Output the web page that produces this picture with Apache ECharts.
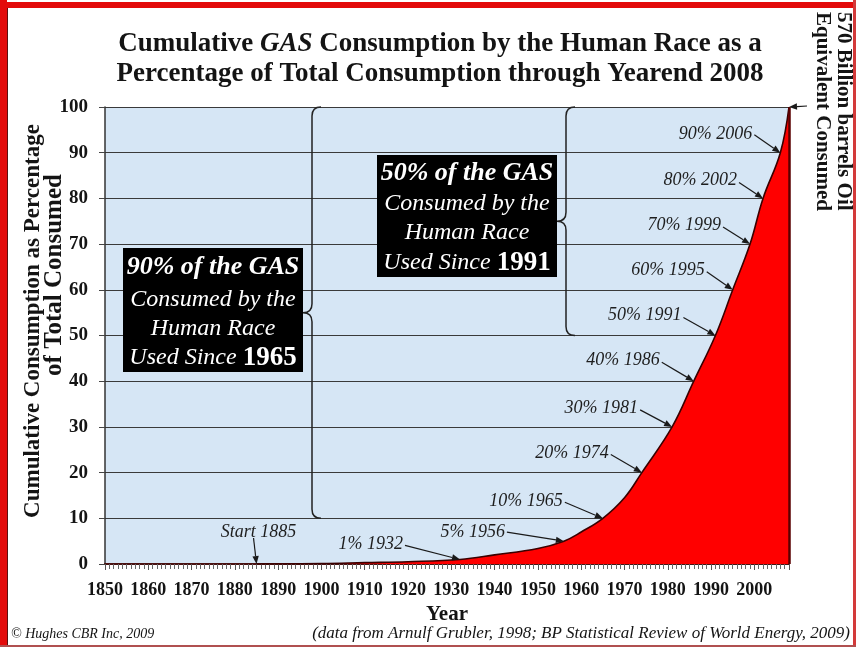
<!DOCTYPE html>
<html>
<head>
<meta charset="utf-8">
<script src="https://cdn.jsdelivr.net/npm/echarts@6/dist/echarts.min.js"></script>
<style>
  html, body { margin: 0; padding: 0; background: #ffffff; }
  #chart { width: 856px; height: 647px; }
</style>
</head>
<body>
<div id="chart"></div>
<script>
// Cumulative share of all gas consumed (percent of the total through 2008), by year
const years    = [1885, 1900, 1910, 1920, 1932, 1940, 1950, 1956, 1960, 1965, 1970, 1974, 1981, 1986, 1991, 1995, 1999, 2002, 2006, 2008];
const sharePct = [0,    0.1,  0.3,  0.5,  1,    2,    3.4,  5,    7,    10,   14.5, 20,   30,   40,   50,   60,   70,   80,   90,   100];

// Milestones called out with arrows
const milestoneYears = [1885, 1932, 1956, 1965, 1974, 1981, 1986, 1991, 1995, 1999, 2002, 2006, 2008];
const milestonePct   = [0,    1,    5,    10,   20,   30,   40,   50,   60,   70,   80,   90,   100];
const milestoneText  = ['Start 1885', '1% 1932', '5% 1956', '10% 1965', '20% 1974', '30% 1981',
                        '40% 1986', '50% 1991', '60% 1995', '70% 1999', '80% 2002', '90% 2006', ''];

// Spans (percent) bracketed by the two curly braces
const braceFrom = [10, 50];
const braceTo   = [100, 100];

// Axis tick labels
const yearTicks = [1850, 1860, 1870, 1880, 1890, 1900, 1910, 1920, 1930, 1940, 1950, 1960, 1970, 1980, 1990, 2000];
const pctTicks  = [0, 10, 20, 30, 40, 50, 60, 70, 80, 90, 100];

// ---- layout (pixel offsets, not data) ----
// arrow tail offset from the pointed-at point, text anchor offset from the tail, text alignment
const calloutLayout = [
  { tail: [-3, -26], text: [5, 3],  align: 'center', vAlign: 'bottom' },
  { tail: [-55, -14], text: [-2, -1], align: 'right', vAlign: 'middle' },
  { tail: [-57, -9],  text: [-2, 0],  align: 'right', vAlign: 'middle' },
  { tail: [-38, -16], text: [-2, -1], align: 'right', vAlign: 'middle' },
  { tail: [-31, -18], text: [-2, -1], align: 'right', vAlign: 'middle' },
  { tail: [-32, -17], text: [-2, -2], align: 'right', vAlign: 'middle' },
  { tail: [-32, -19], text: [-2, -2], align: 'right', vAlign: 'middle' },
  { tail: [-32, -18], text: [-2, -2], align: 'right', vAlign: 'middle' },
  { tail: [-26, -18], text: [-2, -2], align: 'right', vAlign: 'middle' },
  { tail: [-27, -17], text: [-2, -2], align: 'right', vAlign: 'middle' },
  { tail: [-24, -16], text: [-2, -2], align: 'right', vAlign: 'middle' },
  { tail: [-26, -18], text: [-2, 0],  align: 'right', vAlign: 'middle' },
  { tail: [18, -1],   text: [0, 0],   align: 'left',  vAlign: 'middle' }
];
const braceX = [312, 566];
const braceR = 9;

const SERIF = '"Liberation Serif", "Times New Roman", "DejaVu Serif", serif';
const INK = '#141414';

const chart = echarts.init(document.getElementById('chart'), null, { renderer: 'canvas' });

function arrowChildren(tip, tail, color) {
  const dx = tip[0] - tail[0], dy = tip[1] - tail[1];
  const len = Math.hypot(dx, dy) || 1;
  const ux = dx / len, uy = dy / len;
  const hl = 8, hw = 3.2;
  const bx = tip[0] - ux * hl, by = tip[1] - uy * hl;
  return [
    { type: 'line', shape: { x1: tail[0], y1: tail[1], x2: bx, y2: by },
      style: { stroke: color, lineWidth: 1.2 } },
    { type: 'polygon', shape: { points: [[tip[0], tip[1]], [bx - uy * hw, by + ux * hw], [bx + uy * hw, by - ux * hw]] },
      style: { fill: color } }
  ];
}

function renderCallout(params, api) {
  const i = params.dataIndex;
  const p = api.coord([api.value(0), api.value(1)]);
  const L = calloutLayout[i];
  const tail = [p[0] + L.tail[0], p[1] + L.tail[1]];
  const children = arrowChildren(p, tail, '#1a1a1a');
  if (milestoneText[i]) {
    children.push({
      type: 'text',
      style: {
        text: milestoneText[i],
        x: tail[0] + L.text[0], y: tail[1] + L.text[1],
        font: 'italic 18px ' + SERIF,
        fill: '#1e1e1e',
        align: L.align, textAlign: L.align,
        verticalAlign: L.vAlign, textVerticalAlign: L.vAlign
      }
    });
  }
  return { type: 'group', children: children };
}

function renderBrace(params, api) {
  const i = params.dataIndex;
  const yBot = api.coord([1900, api.value(0)])[1];
  const yTop = api.coord([1900, api.value(1)])[1];
  const yMid = (yBot + yTop) / 2;
  const x = braceX[i], r = braceR;
  const d = 'M' + (x + r) + ' ' + yTop +
            ' Q' + x + ' ' + yTop + ' ' + x + ' ' + (yTop + r) +
            ' L' + x + ' ' + (yMid - r) +
            ' Q' + x + ' ' + yMid + ' ' + (x - r) + ' ' + yMid +
            ' Q' + x + ' ' + yMid + ' ' + x + ' ' + (yMid + r) +
            ' L' + x + ' ' + (yBot - r) +
            ' Q' + x + ' ' + yBot + ' ' + (x + r) + ' ' + yBot;
  return { type: 'path', shape: { pathData: d }, style: { stroke: '#222', lineWidth: 1.5, fill: null } };
}

function txt(x, y, text, font, opts) {
  opts = opts || {};
  const align = opts.align || 'center';
  const va = opts.vAlign || 'middle';
  return {
    type: 'text', x: x, y: y, rotation: opts.rotation || 0, z: 20,
    style: {
      text: text, font: font, fill: opts.fill || INK,
      align: align, textAlign: align, verticalAlign: va, textVerticalAlign: va,
      rich: opts.rich
    }
  };
}

const boxRich = {
  h: { fontFamily: SERIF, fontStyle: 'italic', fontWeight: 'bold', fontSize: 26, fill: '#ffffff', color: '#ffffff' },
  t: { fontFamily: SERIF, fontStyle: 'italic', fontWeight: 'normal', fontSize: 24, fill: '#ffffff', color: '#ffffff', lineHeight: 30 },
  y: { fontFamily: SERIF, fontStyle: 'normal', fontWeight: 'bold', fontSize: 27, fill: '#ffffff', color: '#ffffff', lineHeight: 30 }
};

function infoBox(x, y, w, h, lineYs, lines) {
  const els = [{ type: 'rect', z: 15, shape: { x: x, y: y, width: w, height: h }, style: { fill: '#000000' } }];
  lines.forEach(function (s, k) {
    els.push(txt(x + w / 2, lineYs[k], s, '24px ' + SERIF, { fill: '#ffffff', rich: boxRich }));
  });
  return els;
}

const titleRich = {
  a: { fontFamily: SERIF, fontWeight: 'bold', fontSize: 27, lineHeight: 30, fill: INK, color: INK },
  i: { fontFamily: SERIF, fontWeight: 'bold', fontStyle: 'italic', fontSize: 27, lineHeight: 30, fill: INK, color: INK }
};

const graphics = [].concat(
  [
    // frame
    { type: 'rect', z: 30, shape: { x: 0, y: 2, width: 856, height: 6 }, style: { fill: '#e30b0b' } },
    { type: 'rect', z: 30, shape: { x: 0, y: 0, width: 7, height: 647 }, style: { fill: '#e30b0b' } },
    { type: 'rect', z: 30, shape: { x: 7, y: 8, width: 1, height: 639 }, style: { fill: '#5a1010' } },
    { type: 'rect', z: 30, shape: { x: 853, y: 0, width: 3, height: 647 }, style: { fill: '#d33a3a' } },
    { type: 'rect', z: 30, shape: { x: 0, y: 645, width: 856, height: 2 }, style: { fill: '#b05050' } },
    // title
    txt(440, 29, '{a|Cumulative }{i|GAS}{a| Consumption by the Human Race as a}\n{a|Percentage of Total Consumption through Yearend 2008}',
        'bold 27px ' + SERIF, { vAlign: 'top', rich: titleRich }),
    // y axis title, two lines
    txt(33, 321, 'Cumulative Consumption as Percentage', 'bold 23px ' + SERIF, { rotation: Math.PI / 2 }),
    txt(55, 275, 'of Total Consumed', 'bold 25px ' + SERIF, { rotation: Math.PI / 2 }),
    // total volume note, right edge
    txt(843, 12, '570 Billion barrels Oil', 'bold 21px ' + SERIF, { rotation: -Math.PI / 2, align: 'left' }),
    txt(822, 12, 'Equivalent Consumed', 'bold 21px ' + SERIF, { rotation: -Math.PI / 2, align: 'left' }),
    // footer
    txt(11, 634, '\u00A9 Hughes CBR Inc, 2009', 'italic 14px ' + SERIF, { align: 'left' }),
    txt(850, 634, '(data from Arnulf Grubler, 1998; BP Statistical Review of World Energy, 2009)', 'italic 17px ' + SERIF, { align: 'right' })
  ],
  infoBox(123, 248, 180, 124, [267, 300, 329, 358],
    ['{h|90% of the GAS}', '{t|Consumed by the}', '{t|Human Race}', '{t|Used Since }{y|1965}']),
  infoBox(377, 155, 180, 122, [173, 204, 233, 263],
    ['{h|50% of the GAS}', '{t|Consumed by the}', '{t|Human Race}', '{t|Used Since }{y|1991}'])
);

const option = {
  animation: false,
  backgroundColor: '#ffffff',
  grid: { left: 105, right: 67, top: 107, bottom: 83, show: true, backgroundColor: '#d6e6f5', borderWidth: 0 },
  xAxis: {
    type: 'value', min: yearTicks[0], max: 2008, interval: 10,
    axisLine: { show: true, onZero: false, lineStyle: { color: '#4a1212', width: 2 } },
    axisTick: { show: true, length: 6, lineStyle: { color: '#555' } },
    minorTick: { show: true, splitNumber: 10, length: 5, lineStyle: { color: '#666' } },
    splitLine: { show: false },
    axisLabel: {
      margin: 17, color: INK, fontFamily: SERIF, fontWeight: 'bold', fontSize: 18,
      formatter: function (v) { return yearTicks.indexOf(v) >= 0 ? String(v) : ''; }
    },
    name: 'Year', nameLocation: 'middle', nameGap: 39,
    nameTextStyle: { color: INK, fontFamily: SERIF, fontWeight: 'bold', fontSize: 21 }
  },
  yAxis: {
    type: 'value', min: pctTicks[0], max: pctTicks[pctTicks.length - 1], interval: 10,
    axisLine: { show: true, lineStyle: { color: '#333', width: 1.5 } },
    axisTick: { show: true, length: 6, lineStyle: { color: '#444' } },
    splitLine: { show: true, lineStyle: { color: '#3a3a3a', width: 1 } },
    axisLabel: {
      margin: 17, color: INK, fontFamily: SERIF, fontWeight: 'bold', fontSize: 19,
      formatter: function (v) { return pctTicks.indexOf(v) >= 0 ? String(v) : ''; }
    }
  },
  series: [
    {
      type: 'line', z: 2,
      data: years.map(function (y, i) { return [y, sharePct[i]]; }),
      smooth: 0.4, symbol: 'none',
      lineStyle: { color: '#3a0000', width: 1.6 },
      areaStyle: { color: '#ff0000', opacity: 1 },
      markLine: {
        silent: true, symbol: 'none', label: { show: false },
        lineStyle: { color: '#5a0000', width: 2.5, type: 'solid' },
        data: [{ xAxis: years[years.length - 1] }]
      }
    },
    {
      type: 'custom', z: 5, clip: false, silent: true,
      data: braceFrom.map(function (v, i) { return [v, braceTo[i]]; }),
      encode: { y: [0, 1] },
      renderItem: renderBrace
    },
    {
      type: 'custom', z: 6, clip: false, silent: true,
      data: milestoneYears.map(function (y, i) { return [y, milestonePct[i]]; }),
      renderItem: renderCallout
    }
  ],
  graphic: graphics
};

chart.setOption(option);
</script>
</body>
</html>
